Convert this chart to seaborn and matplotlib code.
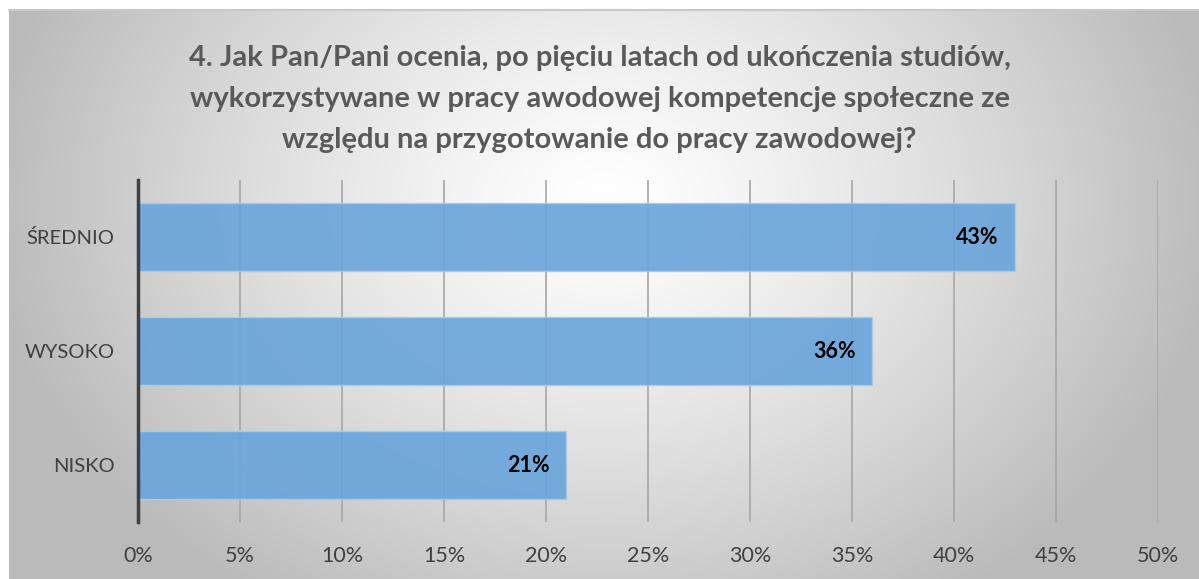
import numpy as np
import pandas as pd
import matplotlib
matplotlib.use('Agg')
import matplotlib.pyplot as plt
import seaborn as sns
from matplotlib.ticker import FuncFormatter

categories = ['ŚREDNIO', 'WYSOKO', 'NISKO']
values = [43, 36, 21]
x_ticks = [0, 5, 10, 15, 20, 25, 30, 35, 40, 45, 50]
title = ('4. Jak Pan/Pani ocenia, po pięciu latach od ukończenia studiów,\n'
         'wykorzystywane w pracy awodowej kompetencje społeczne ze\n'
         'względu na przygotowanie do pracy zawodowej?')

sns.set_style('white')
plt.rcParams['font.family'] = ['Lato', 'DejaVu Sans']

W, H = 1199, 579
fig = plt.figure(figsize=(W / 100, H / 100), dpi=100)

# Radial gradient background of the chart area
bg = fig.add_axes([9 / W, 0, 1 - 9 / W, 1 - 10 / H])
yy, xx = np.mgrid[0:569, 0:1190]
cx, cy = 595, 190
d = np.sqrt(((xx - cx) / 620.0) ** 2 + ((yy - cy) / 480.0) ** 2)
d = np.clip(d, 0, 1)
shade = 1.0 - 0.27 * d ** 1.25
img = np.dstack([shade, shade, shade])
bg.imshow(img, aspect='auto', extent=[0, 1, 0, 1], origin='upper')
bg.set_axis_off()
bg.plot([0, 1], [1, 1], color='#c8c8c8', lw=1.5, transform=bg.transAxes, clip_on=False)

df = pd.DataFrame({'category': categories, 'value': values})

ax = fig.add_axes([138 / W, 1 - 522 / H, (1158 - 138) / W, (522 - 180) / H])
ax.patch.set_alpha(0)
sns.barplot(data=df, x='value', y='category', orient='h', color='#6CA6DB',
            saturation=1, width=0.6, edgecolor='#a9cbea', linewidth=1.0,
            ax=ax, zorder=3)
for p in ax.patches:
    p.set_alpha(0.93)

ax.set_xlim(0, 50)
ax.set_ylim(2.5, -0.5)
ax.set_xticks(x_ticks)
ax.xaxis.set_major_formatter(FuncFormatter(lambda v, _: f'{int(v)}%'))
ax.grid(axis='x', color='#a6a6a6', linewidth=1.2, zorder=1)
ax.set_axisbelow(True)
ax.tick_params(axis='x', length=0, pad=17, labelsize=15.5, labelcolor='#404040')
ax.tick_params(axis='y', length=0, pad=17, labelsize=14.5, labelcolor='#404040')
ax.set_xlabel('')
ax.set_ylabel('')
for s in ['top', 'right', 'bottom']:
    ax.spines[s].set_visible(False)
ax.spines['left'].set_color('#404040')
ax.spines['left'].set_linewidth(2.5)
ax.spines['left'].set_zorder(5)

for i, v in enumerate(values):
    ax.annotate(f'{v}%', (v, i), xytext=(-12, 0), textcoords='offset points',
                ha='right', va='center', fontsize=15.5, fontweight='bold',
                color='black', zorder=6)

fig.text(0.5, 1 - 99 / H, title, ha='center', va='center', fontsize=21,
         fontweight='bold', color='#595959', linespacing=1.72)

fig.savefig('out.png', dpi=100)
